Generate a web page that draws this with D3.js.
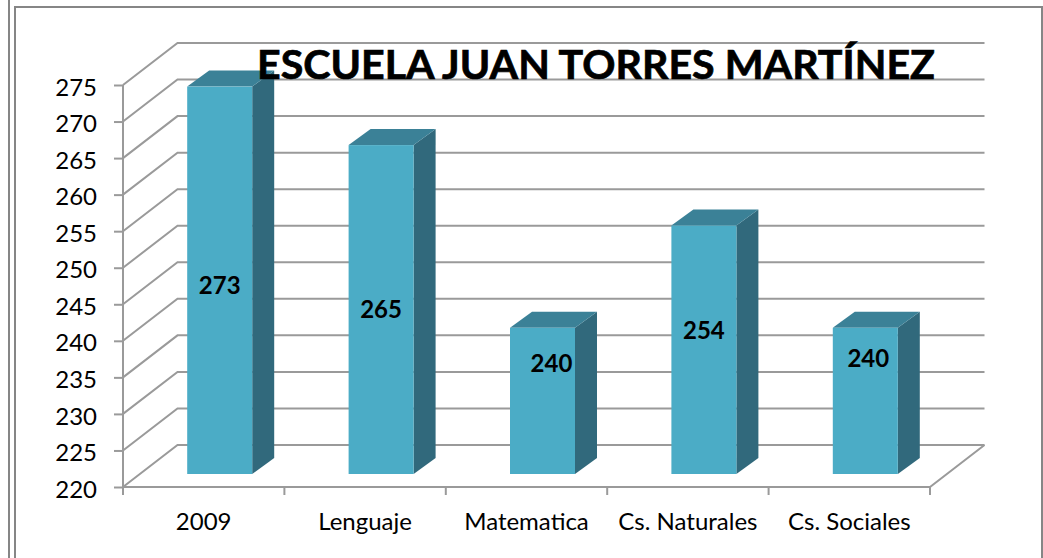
<!DOCTYPE html>
<html><head><meta charset="utf-8">
<style>html,body{margin:0;padding:0;background:#fff}svg{display:block}text{font-family:Lato,"Open Sans",sans-serif;fill:#000}</style>
<script src="https://cdn.jsdelivr.net/npm/d3@7"></script></head>
<body><svg id="c" width="1043" height="558"></svg>
<script>
const titleText = "ESCUELA JUAN TORRES MARTÍNEZ";
const categories = ["2009","Lenguaje","Matematica","Cs. Naturales","Cs. Sociales"];
const values = [273,265,240,254,240];
const yTicks = [220,225,230,235,240,245,250,255,260,265,270,275];

const frontL=123, frontR=930, yB=487, yT=85;
const backDx=54.5, backDy=42;
const barW=65, barShiftX=16, barShiftY=13, barDx=22, barDy=16;
const gridColor="#9a9a9a";
// hand-placed data labels (pixel centres in the reference)
const labelCY=[286,310,364,331,359];
const labelDX=[0,0,9,0,3];

const svg=d3.select("#c");
const x=d3.scaleBand().domain(categories).range([frontL,frontR]);
const y=d3.scaleLinear().domain([220,275]).range([yB,yT]);

// outer frame
const frame=svg.append("g").attr("stroke","#868686").attr("stroke-width",2).attr("fill","none");
frame.append("path").attr("d","M9,0V558M15,558V7H1042V558");

// gridlines: side wall + back wall
const grid=svg.append("g").attr("stroke",gridColor).attr("stroke-width",2).attr("fill","none");
grid.selectAll("path").data(yTicks).join("path")
  .attr("d",t=>`M${frontL},${y(t)}L${frontL+backDx},${y(t)-backDy}H${frontR+backDx}`);
grid.append("path").attr("d",`M${frontL},${yB}H${frontR}L${frontR+backDx},${yB-backDy}`);

// axes
const axL=d3.axisLeft(y).tickValues(yTicks).tickSize(9).tickPadding(17);
const gL=svg.append("g").attr("transform",`translate(${frontL},0)`).call(axL);
const axB=d3.axisBottom(x).tickSize(0).tickPadding(26);
const gB=svg.append("g").attr("transform",`translate(0,${yB})`).call(axB);
[gL,gB].forEach(g=>{
  g.selectAll("text").style("font-size","24px").style("font-family","Lato");
  g.selectAll("line").attr("stroke",gridColor).attr("stroke-width",2);
  g.select(".domain").remove();
});
gL.selectAll("text").attr("dy","0.42em");
gB.selectAll("text").attr("dy","0.71em");
svg.append("line").attr("x1",frontL).attr("x2",frontL).attr("y1",yT).attr("y2",yB+8).attr("stroke",gridColor).attr("stroke-width",2);
svg.append("g").selectAll("line").data(d3.range(categories.length)).join("line")
  .attr("x1",i=>frontL+(i+1)*x.step()).attr("x2",i=>frontL+(i+1)*x.step())
  .attr("y1",yB).attr("y2",yB+8).attr("stroke",gridColor).attr("stroke-width",2);

// 3D bars
const rows=categories.map((c,i)=>({c,v:values[i],i}));
const bars=svg.append("g").selectAll("g").data(rows).join("g");
const L=d=>x(d.c)+(x.bandwidth()-barW)/2+barShiftX;
const T=d=>y(d.v)-barShiftY;
const B=yB-barShiftY;
bars.append("path").attr("fill","#31697c")
  .attr("d",d=>`M${L(d)+barW},${T(d)}l${barDx},${-barDy}V${B-barDy}l${-barDx},${barDy}Z`);
bars.append("path").attr("fill","#3b8197")
  .attr("d",d=>`M${L(d)},${T(d)}l${barDx},${-barDy}h${barW}l${-barDx},${barDy}Z`);
bars.append("rect").attr("fill","#4bacc6")
  .attr("x",L).attr("y",T).attr("width",barW).attr("height",d=>B-T(d));
bars.append("text").text(d=>d.v)
  .attr("x",d=>x(d.c)+x.bandwidth()/2+barShiftX+labelDX[d.i])
  .attr("y",d=>labelCY[d.i]).attr("dy","0.35em").attr("text-anchor","middle")
  .style("font-size","24px").style("font-weight",700);

// title
svg.append("text").text(titleText).attr("x",596).attr("y",79).attr("text-anchor","middle")
  .style("font-size","40px").style("font-weight",700).style("stroke","#000").style("stroke-width",0.7)
  .attr("textLength",678).attr("lengthAdjust","spacingAndGlyphs");
</script></body></html>
